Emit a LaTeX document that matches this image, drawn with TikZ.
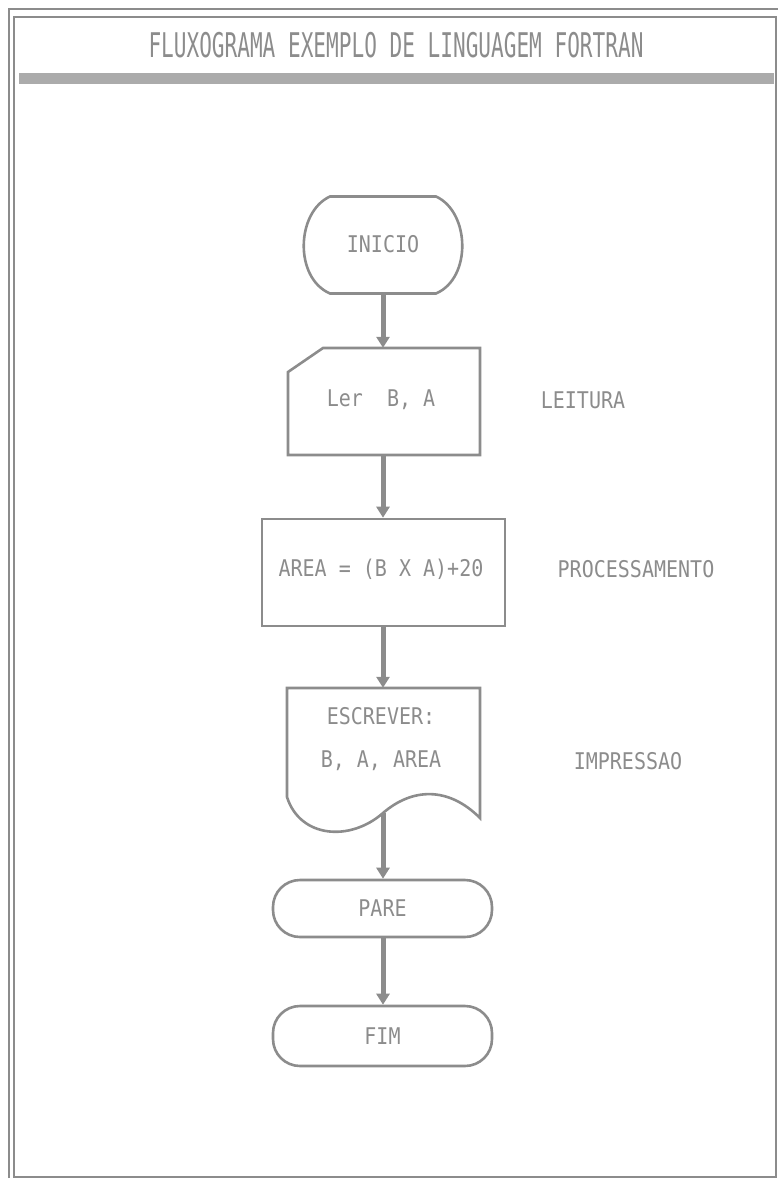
\documentclass[tikz,border=0pt]{standalone}
\usepackage{fontspec}
\usetikzlibrary{arrows.meta}
\newfontfamily\dotfont[FakeStretch=0.87]{DejaVu Sans Mono}
\newfontfamily\dottitle[FakeStretch=0.62]{DejaVu Sans Mono}
\definecolor{ink}{HTML}{8C8C8C}
\definecolor{band}{HTML}{ABABAB}

\begin{document}
\begin{tikzpicture}[x=1pt,y=-1pt,
  frame/.style={draw=ink, line width=1.6pt},
  outline/.style={draw=ink, line width=2.6pt},
  flow/.style={draw=ink, line width=5pt, -{Triangle[width=13pt,length=11pt]}},
  txt/.style={text=ink, font=\dotfont\fontsize{23}{27}\selectfont, inner sep=0pt},
  titletxt/.style={text=ink, font=\dottitle\fontsize{34}{40}\selectfont, inner sep=0pt},
  holder/.style={draw=none, inner sep=0pt, minimum width=#1},
  terminal/.style={outline, txt, rounded corners=27pt, minimum width=219pt}
]
\useasboundingbox (0,0) rectangle (778,1180);

% page frame and title band
\draw[frame] (9,1178) -- (9,9) -- (778,9);
\draw[frame] (14,17) rectangle (776,1177);
\fill[band] (19,73) rectangle (774,84);
\node[titletxt] (title) at (396,45.5) {FLUXOGRAMA EXEMPLO DE LINGUAGEM FORTRAN};

% start symbol
\node[holder=164pt, minimum height=97pt] (ini) at (383,245) {};
\draw[outline] (330,196.5) -- (436,196.5)
  .. controls (470,212) and (472,278) .. (436,293.5) -- (330,293.5)
  .. controls (294,278) and (296,212) .. cycle;
\node[txt] (initxt) at (383,244) {INICIO};

% input card
\node[holder=192pt, minimum height=107pt] (ler) at (384,401.5) {};
\draw[outline] (288,372) -- (323,348) -- (480,348) -- (480,455) -- (288,455) -- cycle;
\node[txt] (lertxt) at (381,400) {Ler\ \ B, A};
\node[txt] (leitura) at (583,400) {LEITURA};

% process box
\node[holder=243pt, minimum height=107pt, outline] (proc) at (383.5,572.5) {};
\node[txt] (proctxt) at (381,569) {AREA = (B X A)+20};
\node[txt] (processamento) at (636,569) {PROCESSAMENTO};

% document symbol
\node[holder=193pt, minimum height=145pt] (doc) at (383.5,760.5) {};
\draw[outline] (287,797) -- (287,688) -- (480,688) -- (480,818)
  .. controls (448,786) and (412,788) .. (383,813)
  .. controls (350,842) and (300,838) .. cycle;
\coordinate (docout) at (383,813);
\node[txt] (esc1) at (381,716) {ESCREVER:};
\node[txt] (esc2) at (381,761) {B, A, AREA};
\node[txt] (impressao) at (628,761) {IMPRESSAO};

% terminals
\node[terminal, minimum height=57pt] (pare) at (382.5,908.5) {PARE};
\node[terminal, minimum height=60pt] (fim) at (382.5,1036) {FIM};

% flow arrows
\draw[flow] (ini.south) -- (ini.south |- ler.north);
\draw[flow] (ler.south -| ini.south) -- (ini.south |- proc.north);
\draw[flow] (proc.south -| ini.south) -- (ini.south |- doc.north);
\draw[flow] (docout) -- (docout |- pare.north);
\draw[flow] (pare.south -| docout) -- (docout |- fim.north);
\end{tikzpicture}
\end{document}
